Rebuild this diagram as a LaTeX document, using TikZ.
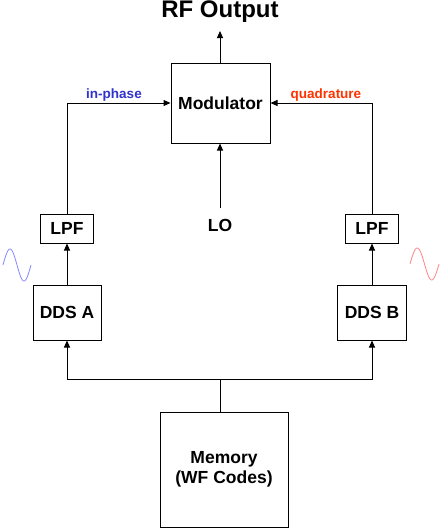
\documentclass[tikz,border=0pt]{standalone}
\usepackage{fontspec}
\setmainfont{Liberation Sans}
\usepackage{tikz}
\usetikzlibrary{arrows,arrows.meta,positioning}
\definecolor{iblue}{RGB}{50,50,205}
\definecolor{qred}{RGB}{255,51,0}
\definecolor{sblue}{RGB}{135,135,255}
\definecolor{sred}{RGB}{255,130,130}

\begin{document}
\begin{tikzpicture}[x=1pt,y=-1pt,line width=1pt,>={Triangle[length=7pt,width=6pt]}]
                \tikzstyle{block}=[draw=black, inner sep=0pt, align=center, font=\fontsize{17.5}{20}\selectfont\bfseries]
                \tikzstyle{lbl}=[inner sep=0pt, font=\fontsize{13.5}{16}\selectfont\bfseries]
                \useasboundingbox (0,0) rectangle (441,531);
                \node [inner sep=0pt, font=\fontsize{24}{28}\selectfont\bfseries] (rf) at (220,12) {RF Output};
                \node [block, minimum width=99pt, minimum height=80pt] (mod) at (220.5,103) {Modulator};
                \node [block, draw=none, inner ysep=10pt] (lo) at (220,225) {LO};
                \node [block, minimum width=53pt, minimum height=29pt] (lpfA) at (67,228.5) {LPF};
                \node [block, minimum width=53pt, minimum height=29pt] (lpfB) at (372,228.5) {LPF};
                \node [block, minimum width=68pt, minimum height=55pt] (ddsA) at (67,312.5) {DDS A};
                \node [block, minimum width=69pt, minimum height=55pt] (ddsB) at (372,312.5) {DDS B};
                \node [block, minimum width=128pt, minimum height=115pt] (mem) at (224,469.5) {Memory\\(WF Codes)};
                \node [lbl, text=iblue] (iph) at (114,95) {in-phase};
                \node [lbl, text=qred] (quad) at (326,95) {quadrature};
                \coordinate (out) at (220,31);
                \coordinate (bus) at (220,379);
                % signal paths
                \draw [->] (mod.north -| out) -- (out);
                \draw [->] (lo.north) -- (lo.north |- mod.south);
                \draw [->] (lpfA.north) |- (mod.west);
                \draw [->] (lpfB.north) |- (mod.east);
                \draw [->] (ddsA.north) -- (lpfA.south);
                \draw [->] (ddsB.north) -- (lpfB.south);
                \draw (bus |- mem.north) -- (bus);
                \draw [->] (bus) -| (ddsA.south);
                \draw [->] (bus) -| (ddsB.south);
                % sine waves
                \draw [sblue, line width=0.8pt] plot[domain=0:360, samples=50, smooth] ({3+28*\x/360},{265-16*sin(\x)});
                \draw [sred, line width=0.8pt] plot[domain=0:360, samples=50, smooth] ({410+29*\x/360},{264-16*sin(\x)});
            \end{tikzpicture}
\end{document}
